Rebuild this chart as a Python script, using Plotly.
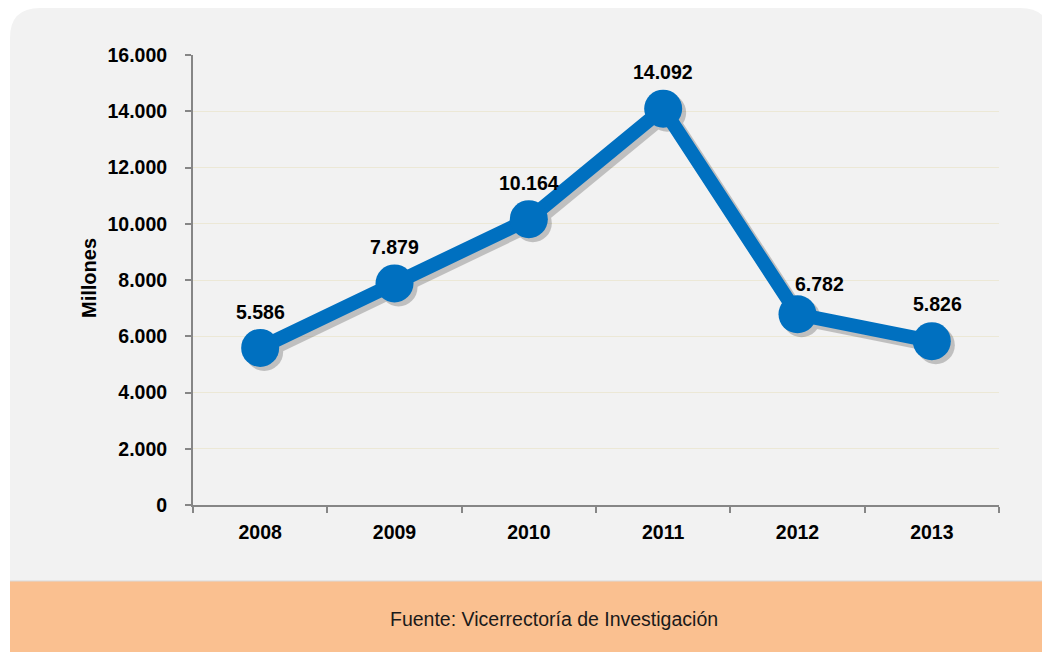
import plotly.graph_objects as go

years = ["2008", "2009", "2010", "2011", "2012", "2013"]
values = [5586, 7879, 10164, 14092, 6782, 5826]
labels = ["5.586", "7.879", "10.164", "14.092", "6.782", "5.826"]
y_ticks = [0, 2000, 4000, 6000, 8000, 10000, 12000, 14000, 16000]

# page is rendered with an 8px body margin: work in reference pixels, offset by 8
OFF = 8
W, H = 1042, 644
L, T = 193 - OFF, 55 - OFF
R = W - (999 - OFF)
B = H - (505 - OFF)
PW, PH = W - L - R, H - T - B

def px(x):
    return (x - OFF - L) / PW

def py(y):
    return (H - B - (y - OFF)) / PH

FONT = "Liberation Sans, Arial, sans-serif"
BLUE = "#0070c0"

xr = [-0.5, 5.5]
yr = [0, 16000]
dx, dy = 4, 4
ux = (xr[1] - xr[0]) / PW
uy = (yr[1] - yr[0]) / PH

fig = go.Figure()

# invisible host trace so the base category axis gets its categories
fig.add_trace(go.Scatter(x=years, y=values, mode="markers", marker=dict(opacity=0),
                         hoverinfo="skip", showlegend=False))
# shadow
fig.add_trace(go.Scatter(
    x=years, y=values, mode="lines+markers", xaxis="x2", yaxis="y2",
    line=dict(color="#404040", width=15), marker=dict(size=38, color="#404040"),
    opacity=0.28, hoverinfo="skip", showlegend=False))
# main line
fig.add_trace(go.Scatter(
    x=years, y=values, mode="lines+markers", xaxis="x3", yaxis="y3",
    line=dict(color=BLUE, width=14), marker=dict(size=38, color=BLUE),
    showlegend=False))

shifts = [(0, 36), (0, 36), (0, 36), (0, 37), (22, 30), (6, 37)]
for i, (v, lab, (sx, sy)) in enumerate(zip(values, labels, shifts)):
    fig.add_annotation(x=i, y=v, xref="x", yref="y", text=lab, showarrow=False,
                       xshift=sx, yshift=sy,
                       font=dict(family=FONT, size=19.5, color="#000000", weight="bold"))

shapes = [
    dict(type="path", xref="paper", yref="paper", layer="below",
         path=(f"M {px(10)},{py(581)} L {px(10)},{py(38)} Q {px(10)},{py(8)} {px(40)},{py(8)} "
               f"L {px(1020)},{py(8)} Q {px(1050)},{py(8)} {px(1050)},{py(38)} "
               f"L {px(1050)},{py(581)} Z"),
         fillcolor="#f2f2f2", line=dict(width=0)),
    dict(type="path", xref="paper", yref="paper", layer="below",
         path=(f"M {px(10)},{py(581)} L {px(1070)},{py(581)} L {px(1070)},{py(660)} "
               f"L {px(10)},{py(660)} Z"),
         fillcolor="#fac090", line=dict(width=0)),
    dict(type="line", xref="paper", yref="paper", layer="below",
         x0=px(10), x1=px(1070), y0=py(581), y1=py(581), line=dict(color="#d9d9d9", width=1)),
]

fig.add_annotation(xref="paper", yref="paper", x=px(554), y=py(619), xanchor="center", yanchor="middle",
                   text="Fuente: Vicerrectoría de Investigación",
                   showarrow=False, font=dict(family=FONT, size=19.5, color="#1a1a1a"))
fig.add_annotation(xref="paper", yref="paper", x=px(89), y=py(278), xanchor="center", yanchor="middle",
                   text="Millones", textangle=-90,
                   showarrow=False, font=dict(family=FONT, size=20, color="#000000", weight="bold"))

fig.update_layout(
    width=W, height=H, margin=dict(l=L, r=R, t=T, b=B),
    paper_bgcolor="#ffffff", plot_bgcolor="rgba(0,0,0,0)",
    separators=",.", shapes=shapes, hovermode="closest",
    xaxis=dict(type="category", range=xr, tickson="boundaries", ticks="outside", ticklen=6,
               tickwidth=2, tickcolor="#868686", showline=True, linecolor="#868686", linewidth=2,
               showgrid=False, tickfont=dict(family=FONT, size=19.5, color="#000000", weight="bold"),
               ticklabelstandoff=9, fixedrange=True),
    yaxis=dict(range=yr, tickvals=y_ticks, tickformat=",d", ticks="outside", ticklen=6,
               tickwidth=2, tickcolor="#868686", showline=True, linecolor="#868686", linewidth=2,
               showgrid=True, gridcolor="#ece8d6", gridwidth=1, zeroline=False,
               tickfont=dict(family=FONT, size=19.5, color="#000000", weight="bold"),
               ticklabelstandoff=14, fixedrange=True),
    xaxis2=dict(type="category", overlaying="x", range=[xr[0] - dx * ux, xr[1] - dx * ux],
                visible=False, fixedrange=True),
    yaxis2=dict(overlaying="y", range=[yr[0] + dy * uy, yr[1] + dy * uy], visible=False,
                fixedrange=True),
    xaxis3=dict(type="category", overlaying="x", range=xr, visible=False, fixedrange=True),
    yaxis3=dict(overlaying="y", range=yr, visible=False, fixedrange=True),
)

fig.write_html("out.html")
